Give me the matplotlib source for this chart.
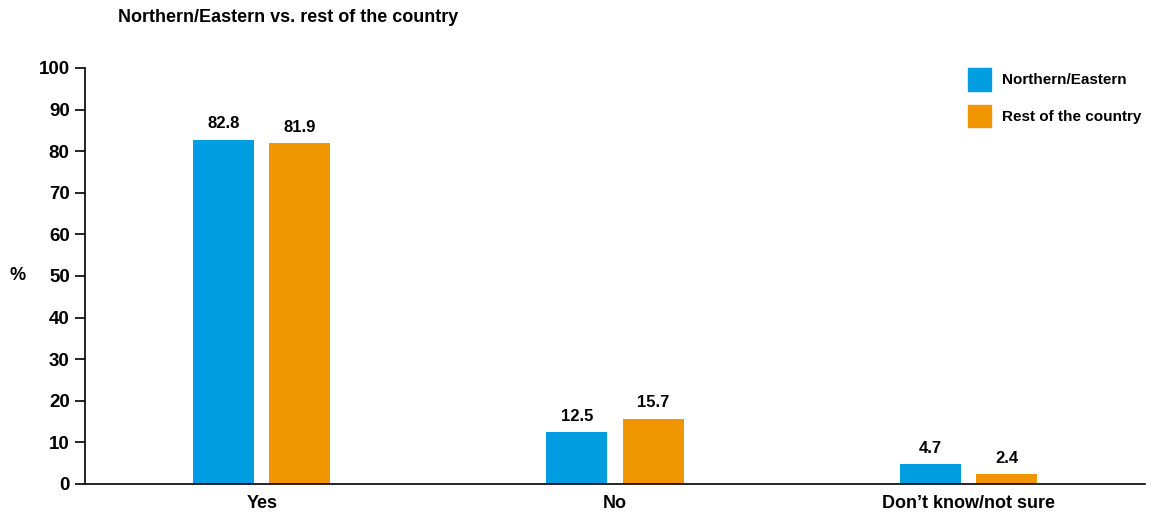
import matplotlib.pyplot as plt
import numpy as np
from matplotlib.patches import Patch

categories = ["Yes", "No", "Don\u2019t know/not sure"]
northern = [82.8, 12.5, 4.7]
rest = [81.9, 15.7, 2.4]
series_names = ["Northern/Eastern", "Rest of the country"]
colors = ["#009ee0", "#ef9600"]

plt.rcParams["font.family"] = ["Liberation Sans", "DejaVu Sans"]
plt.rcParams["font.weight"] = "bold"

fig = plt.figure(figsize=(11.56, 5.16), dpi=100)
ax = fig.add_axes([85 / 1156, 32 / 516, 1060 / 1156, 416 / 516])

x = np.arange(len(categories))
w = 0.173
off = 0.108
b1 = ax.bar(x - off, northern, w, color=colors[0])
b2 = ax.bar(x + off, rest, w, color=colors[1])

for bars, vals in [(b1, northern), (b2, rest)]:
    for b, v in zip(bars, vals):
        ax.text(b.get_x() + b.get_width() / 2, v + 2.0, f"{v:.1f}",
                ha="center", va="bottom", fontsize=12, fontweight="bold")

ax.set_xlim(-0.5, 2.5)
ax.set_ylim(0, 100)
ax.set_yticks(range(0, 101, 10))
ax.set_xticks(x)
ax.set_xticklabels(categories, fontsize=13, fontweight="bold")
ax.tick_params(axis="x", length=0, pad=8)
ax.tick_params(axis="y", length=7, width=1.2, labelsize=13.5, pad=4)
for lab in ax.get_yticklabels():
    lab.set_fontweight("bold")
ax.spines["top"].set_visible(False)
ax.spines["right"].set_visible(False)
ax.spines["left"].set_linewidth(1.2)
ax.spines["bottom"].set_linewidth(1.2)

fig.text(18 / 1156, 1 - 275 / 516, "%", fontsize=13, fontweight="bold",
         ha="center", va="center")
fig.text(118 / 1156, 1 - 18 / 516, "Northern/Eastern vs. rest of the country",
         fontsize=13, fontweight="bold", ha="left", va="center")

handles = [Patch(color=c) for c in colors]
ax.legend(handles, series_names, loc="upper left",
          bbox_to_anchor=(877 / 1060, 1.015), frameon=False,
          handlelength=1.5, handleheight=1.93, labelspacing=0.9,
          handletextpad=0.7, borderaxespad=0,
          prop={"size": 11, "weight": "bold"})

fig.savefig("out.png", dpi=100)
